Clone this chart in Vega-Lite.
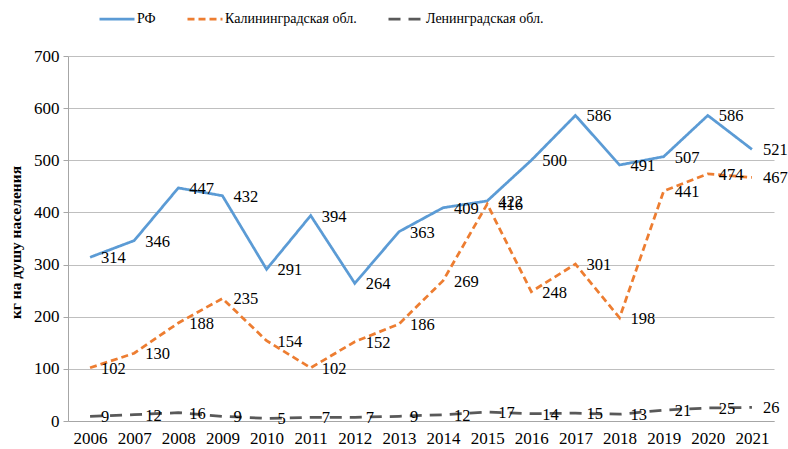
{
  "$schema": "https://vega.github.io/schema/vega-lite/v6.json",
  "width": 706,
  "height": 365,
  "autosize": "none",
  "padding": {"left": 68, "top": 56, "right": 14, "bottom": 28},
  "background": "white",
  "config": {
    "view": {"stroke": null},
    "font": "Liberation Serif"
  },
  "data": {
    "values": [
      {"year": "2006", "s": "РФ", "v": 314}, {"year": "2007", "s": "РФ", "v": 346}, {"year": "2008", "s": "РФ", "v": 447}, {"year": "2009", "s": "РФ", "v": 432},
      {"year": "2010", "s": "РФ", "v": 291}, {"year": "2011", "s": "РФ", "v": 394}, {"year": "2012", "s": "РФ", "v": 264}, {"year": "2013", "s": "РФ", "v": 363},
      {"year": "2014", "s": "РФ", "v": 409}, {"year": "2015", "s": "РФ", "v": 422}, {"year": "2016", "s": "РФ", "v": 500}, {"year": "2017", "s": "РФ", "v": 586},
      {"year": "2018", "s": "РФ", "v": 491}, {"year": "2019", "s": "РФ", "v": 507}, {"year": "2020", "s": "РФ", "v": 586}, {"year": "2021", "s": "РФ", "v": 521},
      {"year": "2006", "s": "Калининградская обл.", "v": 102}, {"year": "2007", "s": "Калининградская обл.", "v": 130}, {"year": "2008", "s": "Калининградская обл.", "v": 188}, {"year": "2009", "s": "Калининградская обл.", "v": 235},
      {"year": "2010", "s": "Калининградская обл.", "v": 154}, {"year": "2011", "s": "Калининградская обл.", "v": 102}, {"year": "2012", "s": "Калининградская обл.", "v": 152}, {"year": "2013", "s": "Калининградская обл.", "v": 186},
      {"year": "2014", "s": "Калининградская обл.", "v": 269}, {"year": "2015", "s": "Калининградская обл.", "v": 416}, {"year": "2016", "s": "Калининградская обл.", "v": 248}, {"year": "2017", "s": "Калининградская обл.", "v": 301},
      {"year": "2018", "s": "Калининградская обл.", "v": 198}, {"year": "2019", "s": "Калининградская обл.", "v": 441}, {"year": "2020", "s": "Калининградская обл.", "v": 474}, {"year": "2021", "s": "Калининградская обл.", "v": 467},
      {"year": "2006", "s": "Ленинградская обл.", "v": 9}, {"year": "2007", "s": "Ленинградская обл.", "v": 12}, {"year": "2008", "s": "Ленинградская обл.", "v": 16}, {"year": "2009", "s": "Ленинградская обл.", "v": 9},
      {"year": "2010", "s": "Ленинградская обл.", "v": 5}, {"year": "2011", "s": "Ленинградская обл.", "v": 7}, {"year": "2012", "s": "Ленинградская обл.", "v": 7}, {"year": "2013", "s": "Ленинградская обл.", "v": 9},
      {"year": "2014", "s": "Ленинградская обл.", "v": 12}, {"year": "2015", "s": "Ленинградская обл.", "v": 17}, {"year": "2016", "s": "Ленинградская обл.", "v": 14}, {"year": "2017", "s": "Ленинградская обл.", "v": 15},
      {"year": "2018", "s": "Ленинградская обл.", "v": 13}, {"year": "2019", "s": "Ленинградская обл.", "v": 21}, {"year": "2020", "s": "Ленинградская обл.", "v": 25}, {"year": "2021", "s": "Ленинградская обл.", "v": 26}
    ]
  },
  "encoding": {
    "x": {
      "field": "year", "type": "ordinal",
      "scale": {"type": "point", "padding": 0.5},
      "axis": {
        "title": null, "labelAngle": 0, "labelFont": "Liberation Serif", "labelFontSize": 17,
        "labelColor": "#000000", "labelPadding": 9, "ticks": false,
        "domainColor": "#a6a6a6", "domainWidth": 1, "grid": false
      }
    },
    "y": {
      "field": "v", "type": "quantitative",
      "scale": {"domain": [0, 700]},
      "axis": {
        "title": "кг на душу населения", "titleFont": "Liberation Serif", "titleFontSize": 15.5, "titleFontWeight": "bold",
        "titleColor": "#000000", "titlePadding": 10, "titleY": 186,
        "values": [0, 100, 200, 300, 400, 500, 600, 700],
        "labelFont": "Liberation Serif", "labelFontSize": 17, "labelColor": "#000000", "labelPadding": 4,
        "tickSize": 5, "tickColor": "#a6a6a6",
        "domainColor": "#a6a6a6", "gridColor": "#bfbfbf", "gridWidth": 1
      }
    }
  },
  "layer": [
    {
      "mark": {"type": "line", "strokeWidth": 2.75},
      "encoding": {
        "color": {
          "field": "s", "type": "nominal",
          "scale": {"domain": ["РФ", "Калининградская обл.", "Ленинградская обл."], "range": ["#5b9bd5", "#ed7d31", "#595959"]},
          "legend": {
            "title": null, "orient": "none", "direction": "horizontal", "legendX": 30, "legendY": -56,
            "symbolType": "stroke", "symbolSize": 1225, "symbolStrokeWidth": 2.75,
            "labelFont": "Liberation Serif", "labelFontSize": 14, "labelColor": "#000000", "labelOffset": 1,
            "columnPadding": 26
          }
        },
        "strokeDash": {
          "field": "s", "type": "nominal",
          "scale": {"domain": ["РФ", "Калининградская обл.", "Ленинградская обл."], "range": [[1, 0], [7, 4], [12, 8]]},
          "legend": {
            "title": null, "orient": "none", "direction": "horizontal", "legendX": 30, "legendY": -56,
            "symbolType": "stroke", "symbolSize": 1225, "symbolStrokeWidth": 2.75,
            "labelFont": "Liberation Serif", "labelFontSize": 14, "labelColor": "#000000", "labelOffset": 1,
            "columnPadding": 26
          }
        }
      }
    },
    {
      "mark": {"type": "text", "align": "left", "baseline": "middle", "dx": 11, "dy": 1, "font": "Liberation Serif", "fontSize": 16.5, "color": "#000000"},
      "encoding": {
        "text": {"field": "v", "type": "quantitative"}
      }
    }
  ]
}
